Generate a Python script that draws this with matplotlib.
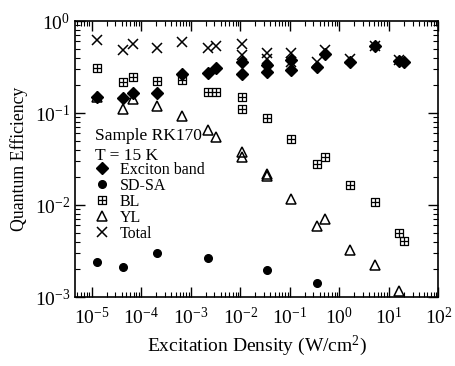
# quantum efficiency vs excitation density, sample RK170
import matplotlib
matplotlib.use('Agg')
import matplotlib.pyplot as plt
from matplotlib.path import Path
from matplotlib.ticker import LogLocator, NullFormatter

plt.rcParams['font.family'] = 'Liberation Serif'
plt.rcParams['mathtext.fontset'] = 'custom'
plt.rcParams['mathtext.rm'] = 'Liberation Serif'
plt.rcParams['mathtext.it'] = 'Liberation Serif:italic'

# exciton band
exc_x = [1.26e-5, 4.2e-5, 6.8e-5, 2.1e-4, 6.8e-4, 2.2e-3, 3.3e-3, 1.06e-2, 1.06e-2,
         3.4e-2, 3.4e-2, 0.105, 0.105, 0.35, 0.51, 1.65, 5.3, 16.3, 20.5]
exc_y = [0.150, 0.147, 0.164, 0.164, 0.265, 0.274, 0.306, 0.36, 0.265,
         0.33, 0.28, 0.38, 0.29, 0.32, 0.44, 0.36, 0.53, 0.37, 0.36]

# SD-SA
sd_x = [1.26e-5, 4.2e-5, 2.1e-4, 2.2e-3, 3.4e-2, 0.35]
sd_y = [2.38e-3, 2.12e-3, 2.98e-3, 2.63e-3, 1.98e-3, 1.41e-3]

# BL
bl_x = [1.26e-5, 4.2e-5, 6.8e-5, 2.1e-4, 6.8e-4, 2.2e-3, 3.3e-3, 1.06e-2, 1.06e-2,
        3.4e-2, 0.105, 0.35, 0.51, 1.65, 5.3, 16.3, 20.5]
bl_y = [0.306, 0.219, 0.248, 0.224, 0.228, 0.17, 0.17, 0.148, 0.112,
        0.0875, 0.0518, 0.0279, 0.0335, 0.0165, 0.0107, 4.92e-3, 4.06e-3]

# YL
yl_x = [1.26e-5, 4.2e-5, 6.8e-5, 2.1e-4, 6.8e-4, 2.2e-3, 3.3e-3, 1.06e-2, 1.06e-2,
        3.4e-2, 3.4e-2, 0.105, 0.35, 0.51, 1.65, 5.3, 16.3]
yl_y = [0.150, 0.112, 0.142, 0.119, 0.093, 0.0654, 0.0544, 0.038, 0.0335,
        0.0217, 0.0205, 0.0115, 5.9e-3, 7.05e-3, 3.24e-3, 2.23e-3, 1.17e-3]

# total
tot_x = [1.26e-5, 4.2e-5, 6.8e-5, 2.1e-4, 6.8e-4, 2.2e-3, 3.3e-3, 1.06e-2, 1.06e-2,
         3.4e-2, 3.4e-2, 0.105, 0.105, 0.35, 0.51, 1.65, 5.3, 16.3]
tot_y = [0.62, 0.48, 0.56, 0.51, 0.59, 0.51, 0.54, 0.56, 0.43,
         0.45, 0.39, 0.45, 0.36, 0.36, 0.48, 0.39, 0.53, 0.38]

# decade ticks
x_ticks = [1e-5, 1e-4, 1e-3, 1e-2, 1e-1, 1e0, 1e1, 1e2]
y_ticks = [1e-3, 1e-2, 1e-1, 1e0]

# square with a cross inside for BL
box = Path([(-1, -1), (1, -1), (1, 1), (-1, 1), (-1, -1),
            (0, -1), (0, 1), (-1, 0), (1, 0)],
           [Path.MOVETO, Path.LINETO, Path.LINETO, Path.LINETO, Path.CLOSEPOLY,
            Path.MOVETO, Path.LINETO, Path.MOVETO, Path.LINETO])

fig = plt.figure(figsize=(4.56, 3.66), dpi=100)
ax = fig.add_axes([0.1645, 0.1885, 0.797, 0.754])

ax.plot(exc_x, exc_y, 'D', color='black', markersize=6.5, linestyle='none', label='Exciton band')
ax.plot(sd_x, sd_y, 'o', color='black', markersize=5.5, linestyle='none', label='SD-SA')
ax.plot(bl_x, bl_y, marker=box, color='black', markerfacecolor='none', markeredgewidth=0.9,
        markersize=6, linestyle='none', label='BL')
ax.plot(yl_x, yl_y, '^', color='black', markerfacecolor='none', markeredgewidth=1.1,
        markersize=7, linestyle='none', label='YL')
ax.plot(tot_x, tot_y, 'x', color='black', markersize=6.5, markeredgewidth=1.1,
        linestyle='none', label='Total')

ax.set_xscale('log')
ax.set_yscale('log')
ax.set_xticks(x_ticks)
ax.set_yticks(y_ticks)
ax.set_xlim(4.6e-6, 100)
ax.set_ylim(1e-3, 1)

# minor ticks 2..9 in every decade
for axis in (ax.xaxis, ax.yaxis):
    axis.set_minor_locator(LogLocator(base=10, subs=range(2, 10), numticks=20))
    axis.set_minor_formatter(NullFormatter())

ax.tick_params(which='both', direction='in', top=True, right=True, labelsize=14)
ax.tick_params(which='major', length=7, width=1)
ax.tick_params(which='minor', length=3.5, width=0.8)
ax.tick_params(axis='x', pad=7)
for s in ax.spines.values():
    s.set_linewidth(1.2)

ax.set_xlabel('Excitation Density (W/cm$^2$)', fontsize=14, labelpad=4)
ax.set_ylabel('Quantum Efficiency', fontsize=12.8, labelpad=5)

ax.text(0.055, 0.585, 'Sample RK170', transform=ax.transAxes, fontsize=12.5, va='center')
ax.text(0.055, 0.51, 'T = 15 K', transform=ax.transAxes, fontsize=12.5, va='center')
ax.legend(loc='upper left', bbox_to_anchor=(0.048, 0.49), frameon=False, fontsize=11.5,
          handlelength=1.2, handletextpad=0.5, labelspacing=0.0, borderpad=0,
          borderaxespad=0)

plt.savefig('out.png', dpi=100)
